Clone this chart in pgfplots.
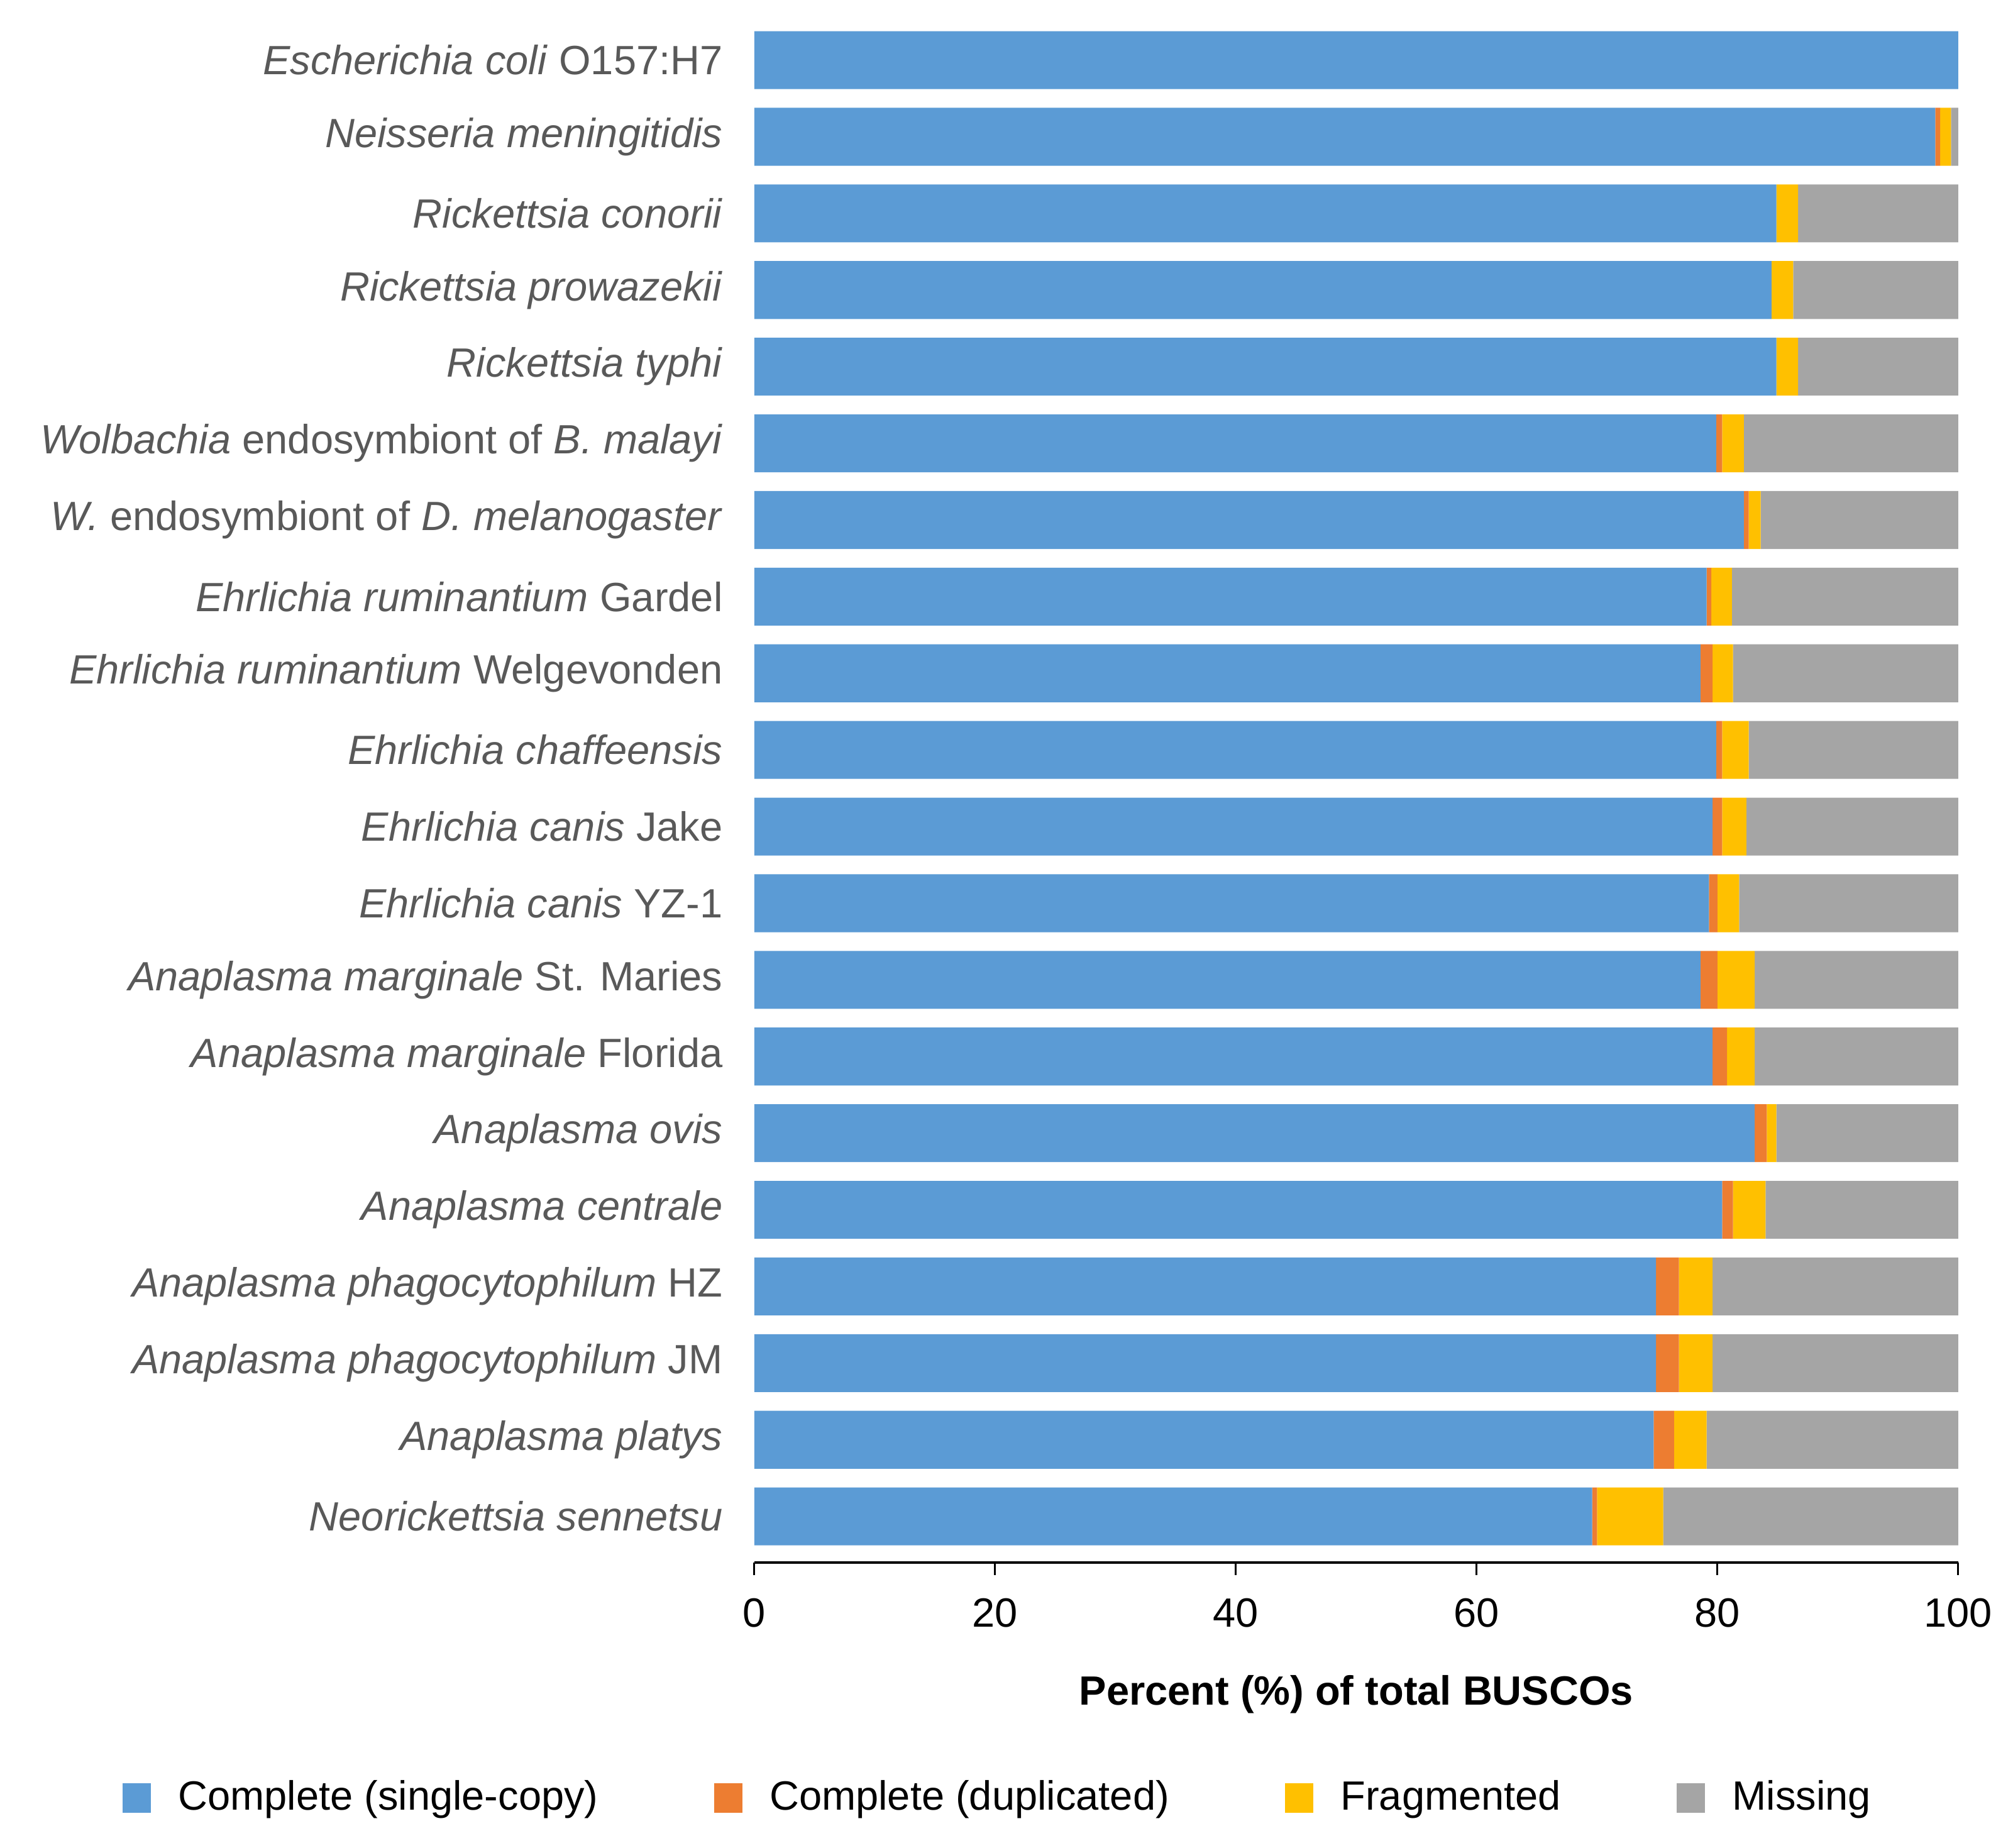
\documentclass[border=0pt]{standalone}
\usepackage{fontspec}
\setmainfont{Liberation Sans}
\usepackage{pgfplots}
\usepackage{pgfplotstable}
\pgfplotsset{compat=1.18}
\definecolor{cblue}{HTML}{5B9BD5}
\definecolor{corange}{HTML}{ED7D31}
\definecolor{cyellow}{HTML}{FFC000}
\definecolor{cgray}{HTML}{A5A5A5}
\definecolor{labgray}{HTML}{595959}
\pgfplotstableread{
y  S     D    F    M
19 100.0 0.0  0.0  0.0
18 98.1  0.4  0.9  0.6
17 84.9  0.0  1.8  13.3
16 84.5  0.0  1.8  13.7
15 84.9  0.0  1.8  13.3
14 79.9  0.5  1.8  17.8
13 82.2  0.4  1.0  16.4
12 79.1  0.4  1.7  18.8
11 78.6  1.0  1.7  18.7
10 79.9  0.5  2.2  17.4
9  79.6  0.8  2.0  17.6
8  79.3  0.7  1.8  18.2
7  78.6  1.4  3.1  16.9
6  79.6  1.2  2.3  16.9
5  83.1  1.0  0.8  15.1
4  80.4  0.9  2.7  16.0
3  74.9  1.9  2.8  20.4
2  74.9  1.9  2.8  20.4
1  74.7  1.7  2.7  20.9
0  69.6  0.4  5.5  24.5
}\busco
\pgfplotsset{legsq/.style={/pgfplots/legend image code/.code={\fill[##1, draw=none] (0pt,-4.3pt) rectangle (8.3pt,4.3pt);}}}
\begin{document}
\fontsize{12}{14.4}\selectfont
\begin{tikzpicture}
\useasboundingbox (-221.5pt,-83.8pt) rectangle (369.6pt,458.7pt);
\begin{axis}[
  at={(0,0)}, anchor=south west,
  width=353.5pt, height=452.3pt, scale only axis,
  xbar stacked, bar width=17pt,
  xmin=0, xmax=100, ymin=-0.6, ymax=19.5,
  axis x line*=bottom, axis y line*=left,
  y axis line style={draw=none},
  x axis line style={black, line width=0.7pt},
  xtick={0,20,...,100},
  tick align=outside,
  xtick style={black, line width=0.6pt},
  major tick length=3.7pt,
  ytick={0,...,19},
  ytick style={draw=none},
  /pgf/number format/assume math mode=true,
  ticklabel style={font=\fontsize{12}{14.4}\selectfont},
  xticklabel style={black, yshift=-2.6pt},
  yticklabel style={text=labgray, xshift=-1.4pt},
  yticklabels={
    {\textit{Neorickettsia sennetsu}},
    {\textit{Anaplasma platys}},
    {\textit{Anaplasma phagocytophilum} JM},
    {\textit{Anaplasma phagocytophilum} HZ},
    {\textit{Anaplasma centrale}},
    {\textit{Anaplasma ovis}},
    {\textit{Anaplasma marginale} Florida},
    {\textit{Anaplasma marginale} St. Maries},
    {\textit{Ehrlichia canis} YZ-1},
    {\textit{Ehrlichia canis} Jake},
    {\textit{Ehrlichia chaffeensis}},
    {\textit{Ehrlichia ruminantium} Welgevonden},
    {\textit{Ehrlichia ruminantium} Gardel},
    {\textit{W.} endosymbiont of \textit{D. melanogaster}},
    {\textit{Wolbachia} endosymbiont of \textit{B. malayi}},
    {\textit{Rickettsia typhi}},
    {\textit{Rickettsia prowazekii}},
    {\textit{Rickettsia conorii}},
    {\textit{Neisseria meningitidis}},
    {\textit{Escherichia coli} O157:H7}},
  xlabel={\bfseries Percent (\%) of total BUSCOs},
  xlabel style={at={(axis description cs:0.5,0)}, anchor=center, yshift=-38.8pt, font=\fontsize{12}{14.4}\selectfont},
  legend columns=4,
  legend style={at={(0.207,-0.153)}, anchor=center, draw=none, fill=none,
    font=\fontsize{12}{14.4}\selectfont,
    nodes={inner xsep=4pt},
    /tikz/every odd column/.append style={column sep=4pt},
    /tikz/every even column/.append style={column sep=30pt}},
]
\addplot[fill=cblue, draw=none, legsq] table[x=S, y=y] {\busco};
\addlegendentry{Complete (single-copy)}
\addplot[fill=corange, draw=none, legsq] table[x=D, y=y] {\busco};
\addlegendentry{Complete (duplicated)}
\addplot[fill=cyellow, draw=none, legsq] table[x=F, y=y] {\busco};
\addlegendentry{Fragmented}
\addplot[fill=cgray, draw=none, legsq] table[x=M, y=y] {\busco};
\addlegendentry{Missing}
\end{axis}
\end{tikzpicture}
\end{document}
